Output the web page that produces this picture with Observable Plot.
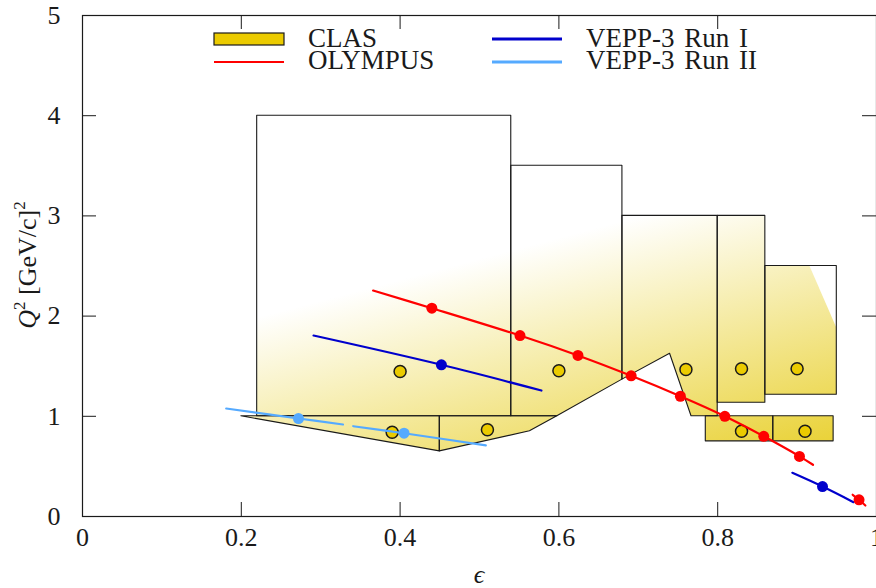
<!DOCTYPE html>
<html><head><meta charset="utf-8">
<script src="https://cdn.jsdelivr.net/npm/d3@7"></script>
<script src="https://cdn.jsdelivr.net/npm/@observablehq/plot@0.6"></script>
<style>
body{margin:0;background:#fff}
#chart{position:relative;width:876px;height:588px;overflow:hidden}
#chart svg text{font-family:'Liberation Serif','Times New Roman',serif !important}
#chart svg g[aria-label$="tick label"] text{font-size:26px !important}
</style>
</head><body><div id="chart"></div>
<script>
// ---------- axis ticks ----------
const xTicks = [0, 0.2, 0.4, 0.6, 0.8, 1];
const xTickLabels = ["0", "0.2", "0.4", "0.6", "0.8", "1"];
const yTicks = [0, 1, 2, 3, 4, 5];
const yTickLabels = ["0", "1", "2", "3", "4", "5"];

// ---------- CLAS coverage regions (epsilon, lower Q2, upper Q2) ----------
const clasRegionEps = [
  [0.22, 0.54],
  [0.54, 0.598, 0.68],
  [0.68, 0.740, 0.767, 0.80],
  [0.80, 0.86],
  [0.86, 0.95],
  [0.785, 0.87],
  [0.87, 0.946],
  [0.20, 0.45],
  [0.45, 0.5635, 0.598]
];
const clasRegionLo = [
  [1.0, 1.0],
  [1.0, 1.0, 1.366],
  [1.366, 1.624, 1.0, 1.0],
  [1.135, 1.135],
  [1.215, 1.215],
  [0.75, 0.75],
  [0.75, 0.75],
  [1.0, 0.65],
  [0.65, 0.85, 1.0]
];
const clasRegionHi = [
  [4.0, 4.0],
  [3.5, 3.5, 3.5],
  [3.0, 3.0, 3.0, 3.0],
  [3.0, 3.0],
  [2.5, 2.5],
  [1.0, 1.0],
  [1.0, 1.0],
  [1.0, 1.0],
  [1.0, 1.0, 1.0]
];
// uncovered corner of the 5th region
const clasGapEps = [0.916, 0.95];
const clasGapLo = [2.5, 1.88];
const clasGapHi = [2.5, 2.5];
// shading gradient endpoints (epsilon, Q2): white -> full yellow
const clasShadeStart = [0.220, 1.98];
const clasShadeEnd = [0.312, -0.78];

// CLAS measured points
const clasEps = [0.400, 0.390, 0.510, 0.600, 0.760, 0.830, 0.900, 0.830, 0.910];
const clasQ2  = [1.447, 0.840, 0.865, 1.455, 1.467, 1.474, 1.474, 0.851, 0.851];

// ---------- OLYMPUS ----------
const olympusLine1Eps = [0.366, 0.440, 0.551, 0.624, 0.691, 0.753, 0.809, 0.858, 0.903, 0.920];
const olympusLine1Q2  = [2.255, 2.079, 1.806, 1.607, 1.404, 1.200, 1.000, 0.800, 0.600, 0.516];
const olympusLine2Eps = [0.970, 0.978, 0.986];
const olympusLine2Q2  = [0.217, 0.167, 0.110];
const olympusEps = [0.440, 0.551, 0.624, 0.691, 0.753, 0.809, 0.858, 0.903, 0.978];
const olympusQ2  = [2.079, 1.806, 1.607, 1.404, 1.200, 1.000, 0.800, 0.600, 0.167];

// ---------- VEPP-3 Run I ----------
const vepp1Line1Eps = [0.291, 0.452, 0.578];
const vepp1Line1Q2  = [1.806, 1.514, 1.257];
const vepp1Line2Eps = [0.894, 0.932, 0.971];
const vepp1Line2Q2  = [0.436, 0.299, 0.143];
const vepp1Eps = [0.452, 0.932];
const vepp1Q2  = [1.514, 0.299];

// ---------- VEPP-3 Run II ----------
const vepp2Line1Eps = [0.181, 0.272, 0.328];
const vepp2Line1Q2  = [1.078, 0.978, 0.918];
const vepp2Line2Eps = [0.341, 0.405, 0.508];
const vepp2Line2Q2  = [0.901, 0.831, 0.709];
const vepp2Eps = [0.272, 0.405];
const vepp2Q2  = [0.978, 0.831];

// ---------- legend ----------
const legendNames = ["CLAS", "OLYMPUS", "VEPP-3 Run I", "VEPP-3 Run II"];
const legendColors = ["#ebcb00", "#ff0000", "#0000cc", "#55aaff"];

// ---------- build tables ----------
const regionTable = clasRegionEps.flatMap((e, i) =>
  e.map((v, j) => ({id: i, eps: v, lo: clasRegionLo[i][j], hi: clasRegionHi[i][j], g: "url(#clasGrad)"})));
const gapTable = clasGapEps.map((v, j) => ({eps: v, lo: clasGapLo[j], hi: clasGapHi[j]}));
const pts = (E, Q) => E.map((e, i) => ({eps: e, q2: Q[i]}));
const segs = (...pairs) => pairs.flatMap(([E, Q], s) => E.map((e, i) => ({seg: s, eps: e, q2: Q[i]})));

const olympusLines = segs([olympusLine1Eps, olympusLine1Q2], [olympusLine2Eps, olympusLine2Q2]);
const vepp1Lines = segs([vepp1Line1Eps, vepp1Line1Q2], [vepp1Line2Eps, vepp1Line2Q2]);
const vepp2Lines = segs([vepp2Line1Eps, vepp2Line1Q2], [vepp2Line2Eps, vepp2Line2Q2]);

// ---------- layout ----------
const W = 876, H = 588, mL = 82, mR = 0, mT = 15, mB = 72;
const tickLen = 14;
const tx = tickLen / (W - mL - mR);
const ty = tickLen * 5 / (H - mT - mB);
const FONT = "'Liberation Serif', 'Times New Roman', serif";
const ink = "#1a1a1a";

const chart = Plot.plot({
  width: W, height: H,
  marginLeft: mL, marginRight: mR, marginTop: mT, marginBottom: mB,
  style: {fontFamily: FONT, fontSize: "26px", color: ink, background: "white"},
  x: {domain: [0, 1], label: null},
  y: {domain: [0, 5], label: null},
  color: {type: "identity"},
  marks: [
    Plot.area(regionTable, {x1: "eps", y1: "lo", y2: "hi", z: "id", fill: "g"}),
    Plot.area(gapTable, {x1: "eps", y1: "lo", y2: "hi", fill: "white"}),
    Plot.area(regionTable, {x1: "eps", y1: "lo", y2: "hi", z: "id", fill: "none", stroke: ink, strokeWidth: 1.1}),
    Plot.ruleX(xTicks, {y1: 0, y2: ty, stroke: ink}),
    Plot.ruleX(xTicks, {y1: 5 - ty, y2: 5, stroke: ink}),
    Plot.ruleY(yTicks, {x1: 0, x2: tx, stroke: ink}),
    Plot.ruleY(yTicks, {x1: 1 - tx, x2: 1, stroke: ink}),
    Plot.axisX(xTicks, {tickSize: 0, tickPadding: 11, tickFormat: (d) => xTickLabels[xTicks.indexOf(d)],
      fontFamily: FONT, fontSize: 26, fill: ink, label: null}),
    Plot.axisY(yTicks, {tickSize: 0, tickPadding: 22, tickFormat: (d) => yTickLabels[yTicks.indexOf(d)],
      fontFamily: FONT, fontSize: 26, fill: ink, label: null}),
    Plot.frame({stroke: ink, strokeWidth: 1.2}),
    Plot.dot(pts(clasEps, clasQ2), {x: "eps", y: "q2", r: 6, fill: legendColors[0], stroke: ink, strokeWidth: 1.5}),
    Plot.line(vepp2Lines, {x: "eps", y: "q2", z: "seg", stroke: legendColors[3], strokeWidth: 2.2, curve: "catmull-rom"}),
    Plot.line(vepp1Lines, {x: "eps", y: "q2", z: "seg", stroke: legendColors[2], strokeWidth: 2.2, curve: "catmull-rom"}),
    Plot.line(olympusLines, {x: "eps", y: "q2", z: "seg", stroke: legendColors[1], strokeWidth: 2.2, curve: "catmull-rom"}),
    Plot.dot(pts(vepp2Eps, vepp2Q2), {x: "eps", y: "q2", r: 5.5, fill: legendColors[3]}),
    Plot.dot(pts(vepp1Eps, vepp1Q2), {x: "eps", y: "q2", r: 5.5, fill: legendColors[2]}),
    Plot.dot(pts(olympusEps, olympusQ2), {x: "eps", y: "q2", r: 5.5, fill: legendColors[1]})
  ]
});

document.getElementById("chart").appendChild(chart);

// gradient defs, positioned through the plot's scales
const xs = chart.scale("x"), ys = chart.scale("y");
const svg = d3.select(chart);
const grad = svg.insert("defs", ":first-child").append("linearGradient")
  .attr("id", "clasGrad").attr("gradientUnits", "userSpaceOnUse")
  .attr("x1", xs.apply(clasShadeStart[0])).attr("y1", ys.apply(clasShadeStart[1]))
  .attr("x2", xs.apply(clasShadeEnd[0])).attr("y2", ys.apply(clasShadeEnd[1]));
grad.append("stop").attr("offset", 0).attr("stop-color", "#ffffff");
grad.append("stop").attr("offset", 0.3).attr("stop-color", "#f8f1bf");
grad.append("stop").attr("offset", 1).attr("stop-color", "#e8cf2a");

// axis titles
const yl = svg.append("text").attr("transform", "translate(36,265) rotate(-90)")
  .attr("text-anchor", "middle").attr("font-family", FONT).attr("font-size", 26).attr("fill", ink);
yl.append("tspan").attr("font-style", "italic").text("Q");
yl.append("tspan").attr("font-size", 17).attr("dy", -11).text("2");
yl.append("tspan").attr("dy", 11).text(" [GeV/c]");
yl.append("tspan").attr("font-size", 17).attr("dy", -11).text("2");
svg.append("text").attr("x", 479).attr("y", 583).attr("text-anchor", "middle")
  .attr("font-family", FONT).attr("font-size", 26).attr("font-style", "italic").attr("fill", ink).text("ϵ");

// legend
const lg = svg.append("g").attr("font-family", FONT).attr("font-size", 27).attr("fill", ink)
  .attr("text-anchor", "start");
const legendPos = [[214, 39, 308, 47], [214, 62, 308, 69], [492, 39, 586, 47], [492, 62, 586, 69]];
legendNames.forEach((name, i) => {
  const [sx, sy, tx0, ty0] = legendPos[i];
  if (i === 0) {
    lg.append("rect").attr("x", sx).attr("y", sy - 6).attr("width", 70).attr("height", 12)
      .attr("fill", legendColors[i]).attr("stroke", ink).attr("stroke-width", 1.2);
  } else {
    lg.append("line").attr("x1", sx).attr("x2", sx + 70).attr("y1", sy).attr("y2", sy)
      .attr("stroke", legendColors[i]).attr("stroke-width", i === 1 ? 2.2 : 3);
  }
  lg.append("text").attr("x", tx0).attr("y", ty0).attr("text-anchor", "start")
    .attr("word-spacing", 3).text(name);
});
</script>
</body></html>
